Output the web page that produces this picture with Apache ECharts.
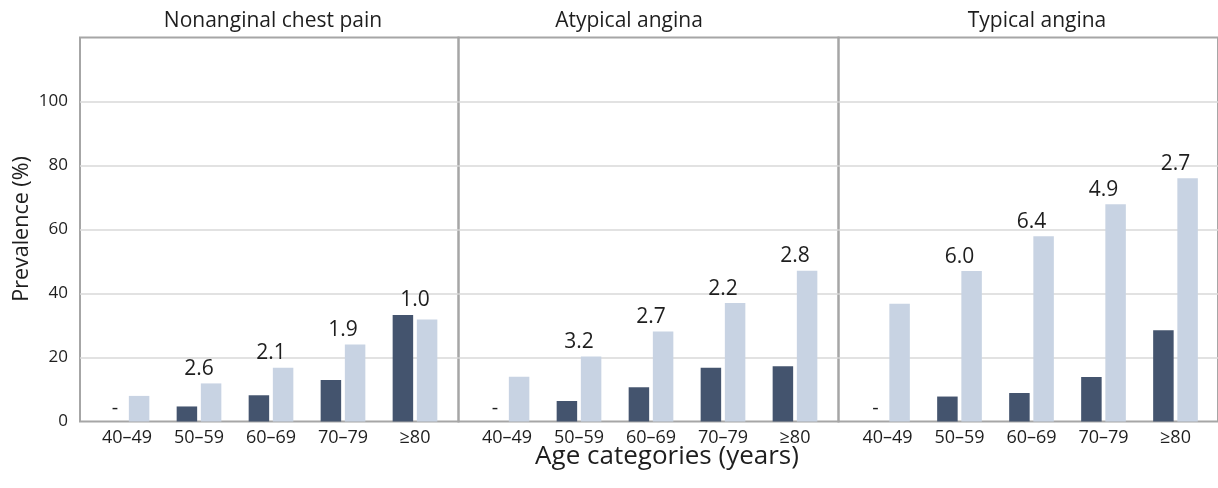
<!DOCTYPE html>
<html>
<head>
<meta charset="utf-8">
<script src="https://cdn.jsdelivr.net/npm/echarts@6/dist/echarts.min.js"></script>
<style>
html,body{margin:0;padding:0;background:#fff;}
#chart{width:1218px;height:488px;}
</style>
</head>
<body>
<div id="chart"></div>
<script>
// ---- data ----
const categories = ['40\u201349', '50\u201359', '60\u201369', '70\u201379', '\u226580'];
const panelTitles = ['Nonanginal chest pain', 'Atypical angina', 'Typical angina'];
// dark series (null = not shown, drawn as "-")
const dark1 = [null, 4.7, 8.2, 13.0, 33.3];
const dark2 = [null, 6.4, 10.7, 16.8, 17.3];
const dark3 = [null, 7.8, 8.9, 13.9, 28.5];
// light series
const light1 = [8.0, 11.9, 16.8, 24.1, 31.9];
const light2 = [14.0, 20.3, 28.1, 37.0, 47.1];
const light3 = [36.8, 47.0, 57.9, 67.9, 76.0];
// ratio labels above each age group
const ratios1 = [null, '2.6', '2.1', '1.9', '1.0'];
const ratios2 = [null, '3.2', '2.7', '2.2', '2.8'];
const ratios3 = [null, '6.0', '6.4', '4.9', '2.7'];
const yTicks = [0, 20, 40, 60, 80, 100];
const yAxisTitle = 'Prevalence (%)';
const xAxisTitle = 'Age categories (years)';

const darks = [dark1, dark2, dark3];
const lights = [light1, light2, light3];
const ratios = [ratios1, ratios2, ratios3];

const FONT = 'Open Sans';
const DARK = '#44546e';
const LIGHT = '#c8d3e3';
const TXT = '#1e1e1e';

const frameLefts = [80, 458.5, 838.5];
const frameWidths = [378.5, 380, 390];
const barLefts = [91, 471, 851.5];
const TOP = 37.5, BOTTOM = 66.5;

const grid = [], xAxis = [], yAxis = [], series = [];
for (let p = 0; p < 3; p++) {
  // frame grid
  grid.push({left: frameLefts[p], width: frameWidths[p], top: TOP, bottom: BOTTOM,
    show: true, borderColor: '#a6a6a6', borderWidth: 2, backgroundColor: 'transparent'});
  xAxis.push({type: 'value', gridIndex: 2*p, min: 0, max: 1, show: false});
  yAxis.push({type: 'value', gridIndex: 2*p, min: 0, max: 120, interval: 20,
    axisLine: {show: false}, axisTick: {show: false},
    splitLine: {show: true, showMinLine: false, showMaxLine: false, lineStyle: {color: '#d9d9d9', width: 1.5}},
    axisLabel: {show: p === 0, fontFamily: FONT, fontSize: 17, color: TXT, margin: 12,
      formatter: v => (yTicks.indexOf(v) >= 0 ? String(v) : '')}});
  // bar grid
  grid.push({left: barLefts[p], width: 360, top: TOP, bottom: BOTTOM});
  xAxis.push({type: 'category', gridIndex: 2*p+1, data: categories,
    axisLine: {show: false}, axisTick: {show: false},
    axisLabel: {fontFamily: FONT, fontSize: 18, color: TXT, margin: 7}});
  yAxis.push({type: 'value', gridIndex: 2*p+1, min: 0, max: 120, interval: 20, show: false,
    splitLine: {show: false}});

  const d = darks[p], l = lights[p], r = ratios[p];
  series.push({type: 'bar', xAxisIndex: 2*p+1, yAxisIndex: 2*p+1, barWidth: 20.5, barGap: '18%',
    itemStyle: {color: DARK}, silent: true,
    data: d.map(v => v === null ? {value: 0, label: {show: true, formatter: '-', position: 'top',
      distance: 3, fontFamily: FONT, fontSize: 20, color: TXT}} : v)});
  series.push({type: 'bar', xAxisIndex: 2*p+1, yAxisIndex: 2*p+1, barWidth: 20.5, barGap: '18%',
    itemStyle: {color: LIGHT}, silent: true, data: l});
  const sd = [];
  r.forEach((t, i) => { if (t !== null) sd.push({value: [categories[i], Math.max(d[i] || 0, l[i])], name: t}); });
  series.push({type: 'scatter', xAxisIndex: 2*p+1, yAxisIndex: 2*p+1, symbolSize: 0, silent: true,
    itemStyle: {opacity: 1, color: TXT},
    data: sd,
    label: {show: true, position: 'top', distance: 4, formatter: prm => prm.name,
      fontFamily: FONT, fontSize: 21, color: TXT, opacity: 1}});
}

const titleX = [273, 629, 1037];
const graphic = panelTitles.map((t, i) => ({type: 'text', x: titleX[i], y: 21,
  style: {text: t, fontFamily: FONT, fontSize: 21, fill: TXT, textAlign: 'center', textVerticalAlign: 'middle'}}));
graphic.push({type: 'text', x: 22, y: 229, rotation: Math.PI/2,
  style: {text: yAxisTitle, fontFamily: FONT, fontSize: 21.5, fill: TXT, textAlign: 'center', textVerticalAlign: 'middle'}});
graphic.push({type: 'text', x: 667, y: 457,
  style: {text: xAxisTitle, fontFamily: FONT, fontSize: 26, fill: TXT, textAlign: 'center', textVerticalAlign: 'middle'}});

const chart = echarts.init(document.getElementById('chart'), null, {renderer: 'canvas'});
chart.setOption({animation: false, backgroundColor: '#fff', grid, xAxis, yAxis, series, graphic});
</script>
</body>
</html>
